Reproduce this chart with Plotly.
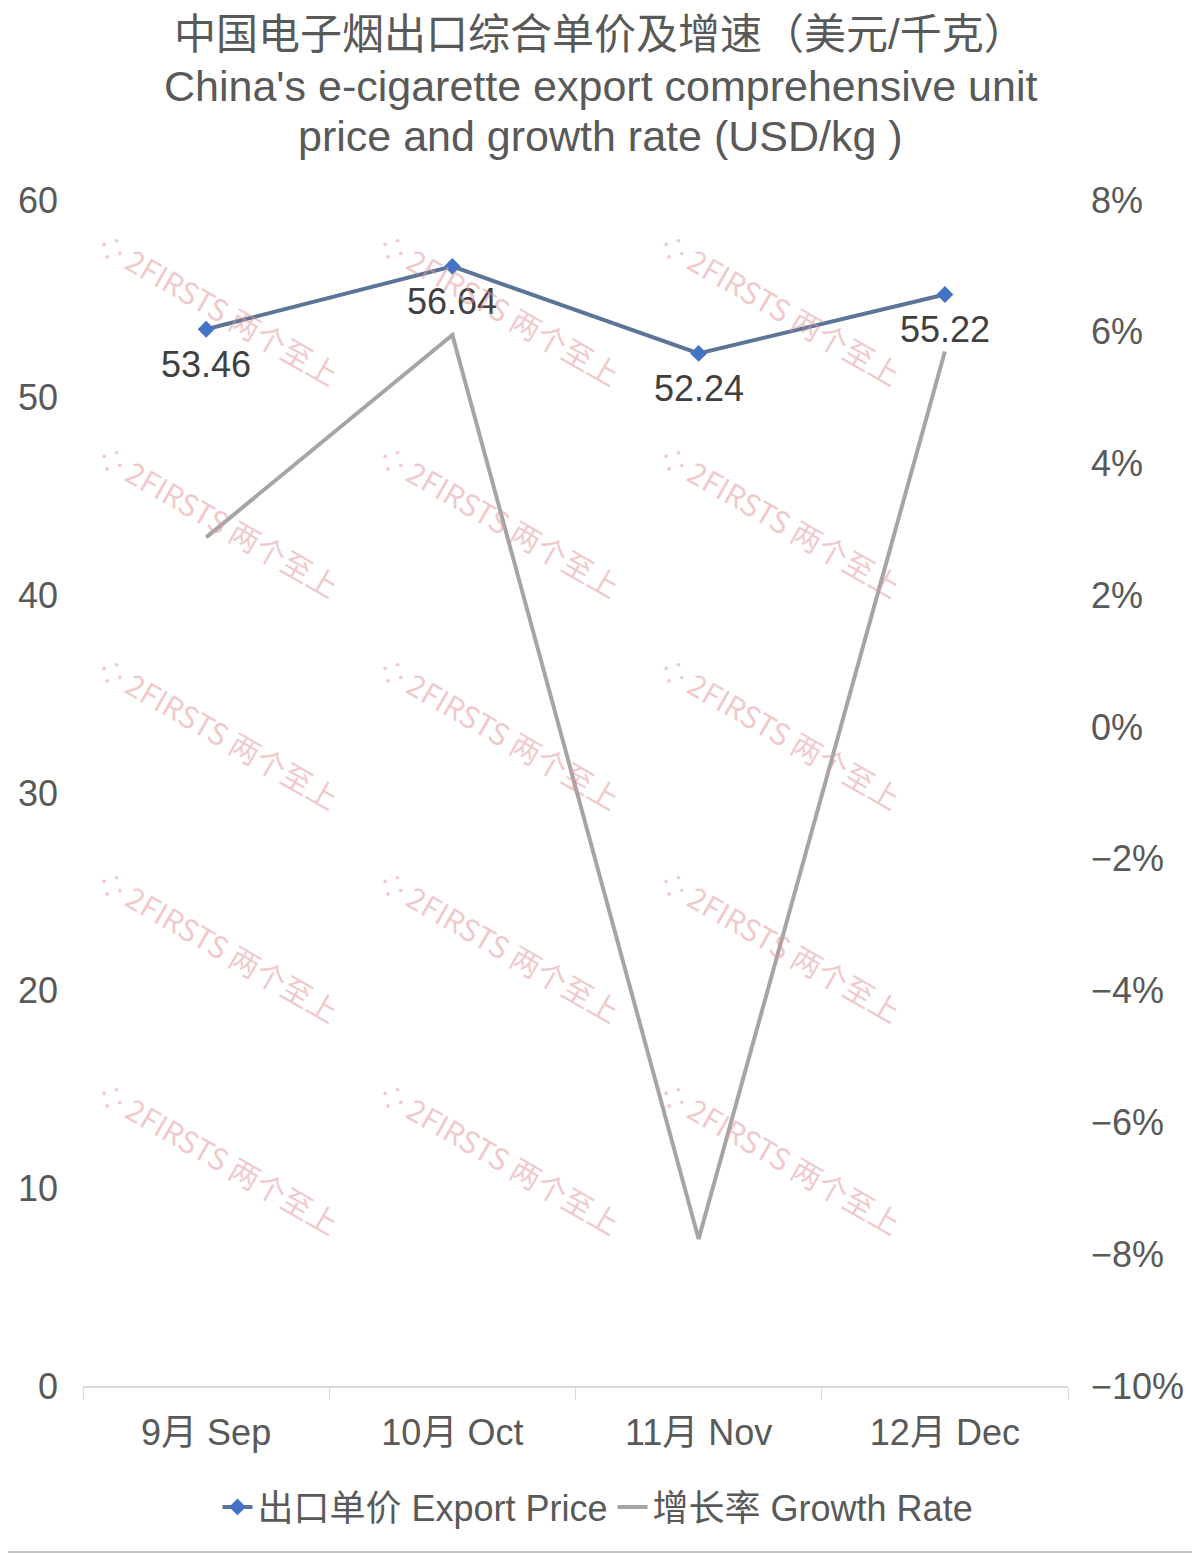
import plotly.graph_objects as go

categories = ["9月 Sep", "10月 Oct", "11月 Nov", "12月 Dec"]
export_price = [53.46, 56.64, 52.24, 55.22]
growth_rate = [0.0288, 0.0595, -0.0777, 0.0570]
price_labels = ["53.46", "56.64", "52.24", "55.22"]
title_lines = [
    "中国电子烟出口综合单价及增速（美元/千克）",
    "China's e-cigarette export comprehensive unit",
    "price and growth rate (USD/kg )",
]

FONT = "Liberation Sans, Arial, Noto Sans CJK SC, sans-serif"
WM_FONT = "Liberation Sans Narrow, Noto Sans CJK SC, sans-serif"
GREY_TXT = "#595959"

# the page body adds an 8px offset; figure is sized to fit inside the window
W, H = 1192, 1546
ML, MR, MT, MB = 75, 132, 192, 168
PW, PH = W - ML - MR, H - MT - MB


def px_x(x):  # reference pixel x -> paper x
    return (x - 8 - ML) / PW


def px_y(y):  # reference pixel y -> paper y
    return 1 + (MT - (y - 8)) / PH


fig = go.Figure()

fig.add_trace(go.Scatter(
    x=categories, y=growth_rate, name="增长率 Growth Rate", yaxis="y2",
    mode="lines", line=dict(color="#A5A5A5", width=4),
))
fig.add_trace(go.Scatter(
    x=categories, y=export_price, name="出口单价 Export Price",
    mode="lines+markers",
    line=dict(color="#5B7497", width=4),
    marker=dict(symbol="diamond", size=13, color="#4472C4"),
))

# data labels below the price points
for c, v, lbl in zip(categories, export_price, price_labels):
    fig.add_annotation(
        x=c, y=v, xref="x", yref="y", text=lbl, showarrow=False,
        xanchor="center", yanchor="middle", yshift=-35,
        font=dict(size=36, color="#404040", family=FONT),
    )

# watermark grid
cols = [219, 500, 781]
rows = [308, 520, 732, 945, 1157]
for cx in cols:
    for cy in rows:
        fig.add_annotation(
            x=px_x(cx), y=px_y(cy), xref="paper", yref="paper",
            xanchor="center", yanchor="middle",
            text="⁘ 2FIRSTS 两个至上", showarrow=False, textangle=30,
            font=dict(size=30, color="rgba(225,150,150,0.5)", family=WM_FONT),
        )

# title lines
for line, cy, fs in zip(title_lines, [35, 86, 136], [42, 43, 43]):
    fig.add_annotation(
        x=px_x(600), y=px_y(cy), xref="paper", yref="paper",
        xanchor="center", yanchor="middle", showarrow=False,
        text=line, font=dict(size=fs, color=GREY_TXT, family=FONT),
    )

fig.add_shape(type="line", xref="paper", yref="paper", x0=-0.2, x1=1.2,
              y0=px_y(1552), y1=px_y(1552),
              line=dict(color="#C8C8C8", width=2))

fig.update_layout(
    width=W, height=H,
    paper_bgcolor="white", plot_bgcolor="white",
    margin=dict(l=ML, r=MR, t=MT, b=MB),
    font=dict(family=FONT, color=GREY_TXT, size=36),
    xaxis=dict(
        type="category", showgrid=False, showline=True, linecolor="#D9D9D9", linewidth=1.5,
        ticks="outside", tickson="boundaries", ticklen=12, tickcolor="#D9D9D9",
        tickfont=dict(size=36, color=GREY_TXT), range=[-0.5, 3.5], automargin=False,
        ticklabelstandoff=14,
    ),
    yaxis=dict(
        range=[0, 60], dtick=10, showgrid=False, zeroline=False, showline=False,
        tickfont=dict(size=36, color=GREY_TXT), ticklabelstandoff=24, automargin=False,
    ),
    yaxis2=dict(
        overlaying="y", side="right", range=[-0.10, 0.08], dtick=0.02, tickformat=".0%",
        showgrid=False, zeroline=False, showline=False,
        tickfont=dict(size=36, color=GREY_TXT), ticklabelstandoff=22, automargin=False,
    ),
    legend=dict(
        orientation="h", x=px_x(598), xanchor="center", y=px_y(1507), yanchor="middle",
        font=dict(size=36, color=GREY_TXT), traceorder="reversed",
        itemwidth=30,
    ),
)

fig.write_html("out.html")
